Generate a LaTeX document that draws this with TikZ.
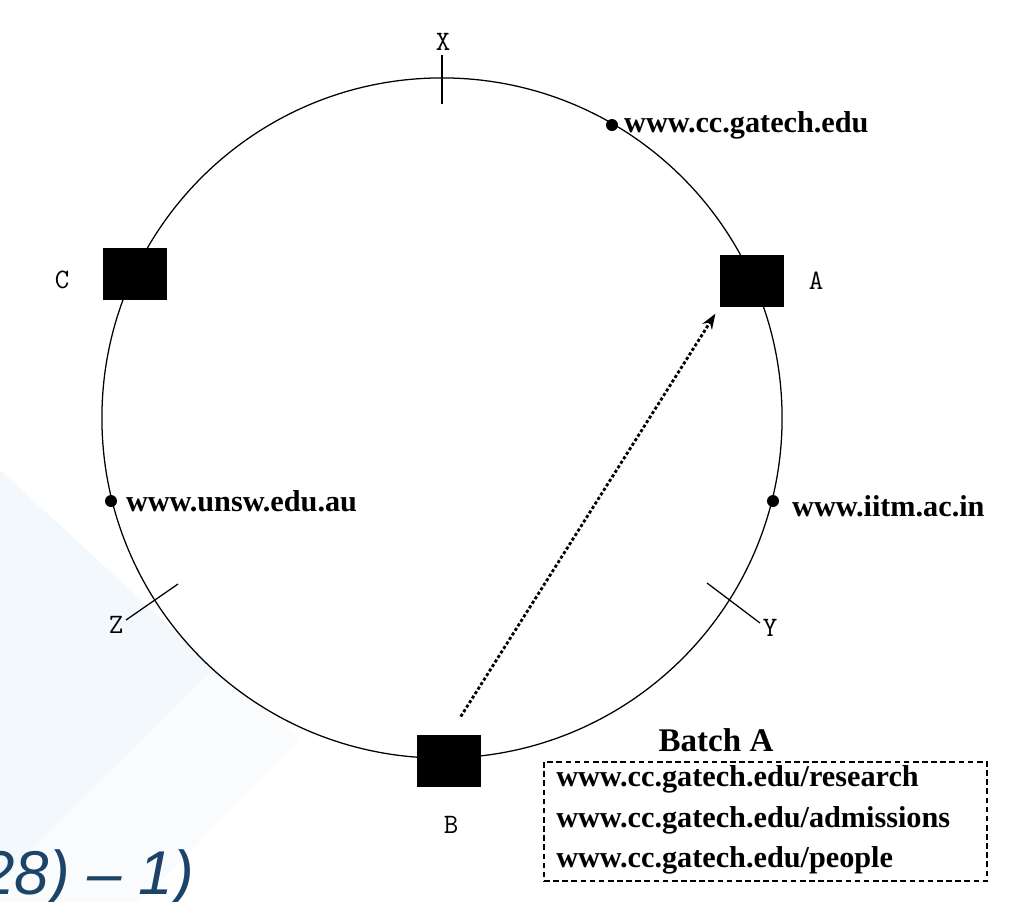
\documentclass[tikz,border=0pt]{standalone}
\usepackage{fontspec}
\setmainfont{Liberation Serif}
\newfontfamily\slidesans{Liberation Sans}
\usetikzlibrary{arrows.meta,positioning}

\definecolor{slideblue}{RGB}{28,68,104}
\definecolor{bgtint}{RGB}{242,248,252}

\begin{document}
\begin{tikzpicture}[x=0.025cm, y=-0.025cm, >=Stealth,
    every node/.style={inner sep=0pt},
    peer/.style={fill=black, minimum width=1.6cm, minimum height=1.28cm},
    ptlabel/.style={font=\ttfamily\fontsize{20}{20}\selectfont},
    url/.style={font=\bfseries\fontsize{21.5}{21.5}\selectfont, anchor=west},
    keydot/.style={fill=black, circle, minimum size=0.3cm},
    request/.style={-{Stealth[length=11pt,width=8pt]}, line width=2pt, dash pattern=on 2.2pt off 1.6pt, shorten <=0.55cm, shorten >=0.2cm},
    batchbox/.style={draw, line width=0.9pt, dash pattern=on 4pt off 2.5pt, minimum width=11.075cm, minimum height=2.975cm}]
    \useasboundingbox (0,0) rectangle (1009,902);
    % faint slide background
    \fill[bgtint] (0,470) -- (215,668) -- (0,880) -- cycle;
    \fill[bgtint!50] (0,880) -- (215,668) -- (300,740) -- (140,902) -- (0,902) -- cycle;

    % identifier ring
    \draw[line width=0.9pt] (442,418) circle [radius=8.5cm];

    % ring markers X, Y, Z
    \draw[line width=0.9pt] (442,55) -- (442,104);
    \node[ptlabel] (lX) at (443,42) {X};
    \draw[line width=0.9pt] (707,583) -- (760,623);
    \node[ptlabel] (lY) at (770,628) {Y};
    \draw[line width=0.9pt] (178,584) -- (126,620);
    \node[ptlabel] (lZ) at (116,625) {Z};

    % keys on the ring
    \node[keydot] (kcc) at (612,125) {};
    \node[url, right=4pt of kcc] (ucc) {www.cc.gatech.edu};
    \node[keydot] (kunsw) at (111,501) {};
    \node[url, right=6pt of kunsw] (uunsw) {www.unsw.edu.au};
    \node[keydot] (kiitm) at (773,501) {};
    \node[url, right=9pt of kiitm, yshift=-0.12cm] (uiitm) {www.iitm.ac.in};

    % peers
    \node[peer] (A) at (752,281) {};
    \node[ptlabel] (lA) at (816,281) {A};
    \node[peer] (C) at (135,274) {};
    \node[ptlabel] (lC) at (62,280) {C};
    \node[peer] (B) at (449,761) {};
    \node[ptlabel] (lB) at (451,825) {B};

    % request from B to A
    \draw[request] (B.north) -- (A.south west);

    % batch of urls
    \node[font=\bfseries\fontsize{23.5}{23.5}\selectfont] (title) at (716,740) {Batch A};
    \node[batchbox] (batch) at (765.5,821.5) {};
    \node[url] (b1) at (556,779) {www.cc.gatech.edu/research};
    \node[url] (b2) at (556,820) {www.cc.gatech.edu/admissions};
    \node[url] (b3) at (556,860) {www.cc.gatech.edu/people};

    % slide text cut at the edge
    \node[font=\slidesans\itshape\fontsize{44}{44}\selectfont, text=slideblue, anchor=base east] (eqn) at (194,894) {28) – 1)};
\end{tikzpicture}
\end{document}
